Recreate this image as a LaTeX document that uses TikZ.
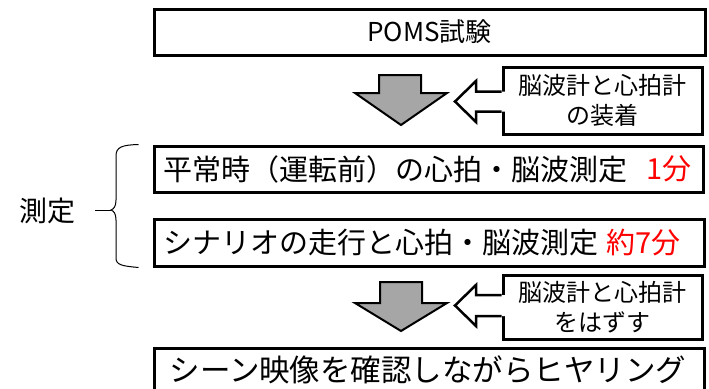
\documentclass[tikz,border=0pt]{standalone}
\usepackage{fontspec}
\setmainfont{Noto Sans CJK JP}
\definecolor{arrgray}{HTML}{A6A6A6}
\definecolor{txtred}{HTML}{FF0000}
\tikzset{
  mainbox/.style={draw=black, line width=3pt, rectangle, inner sep=0pt},
  callbox/.style={draw=black, line width=3pt, rectangle, inner sep=0pt, minimum width=199pt, align=center, font=\fontsize{24}{30}\selectfont},
  grayarrow/.style={draw=black, fill=arrgray, line width=2pt, line join=miter},
  whitearrow/.style={draw=black, line width=2.5pt, line join=miter},
  bigtext/.style={font=\fontsize{29}{34}\selectfont, inner sep=0pt},
}
\begin{document}
\begin{tikzpicture}[x=1pt,y=-1pt]
\useasboundingbox (0,0) rectangle (709,388);
% boxes
\node[mainbox, minimum width=551pt, minimum height=46pt, font=\fontsize{26}{30}\selectfont] (poms) at (429.5,32) {POMS試験};
\node[mainbox, minimum width=549pt, minimum height=46pt] (rest) at (428.5,169) {};
\node[mainbox, minimum width=550pt, minimum height=47pt] (drive) at (429,242.5) {};
\node[mainbox, minimum width=550pt, minimum height=50pt] (hear) at (429,373) {};
% texts in boxes
\node[bigtext, anchor=west] (t2) at (163,169) {平常時（運転前）の心拍・脳波測定};
\node[bigtext, anchor=west, text=txtred] (t2r) at (646,169) {1分};
\node[bigtext, anchor=west] (t3) at (163,242.5) {シナリオの走行と心拍・脳波測定};
\node[bigtext, anchor=west, text=txtred] (t3r) at (606,242.5) {約7分};
\node[font=\fontsize{30.5}{34}\selectfont, inner sep=0pt] (t4) at (428,370) {シーン映像を確認しながらヒヤリング};
% gray arrows
\draw[grayarrow] (379,75) -- (421,75) -- (421,93) -- (447,93) -- (401,125) -- (355,93) -- (379,93) -- cycle;
\draw[grayarrow] (380,282) -- (422,282) -- (422,303) -- (447,303) -- (401,331) -- (355,303) -- (380,303) -- cycle;
% callouts
\node[callbox, minimum height=67pt] (c1) at (602.5,100.5) {脳波計と心拍計\\の装着};
\node[callbox, minimum height=64pt] (c2) at (602.5,307) {脳波計と心拍計\\をはずす};
\fill[white] (507,91.5) -- (476,91.5) -- (476,81) -- (455,101.5) -- (476,122) -- (476,111.5) -- (507,111.5) -- cycle;
\draw[whitearrow] (c1.west |- 0,91.5) -- (476,91.5) -- (476,81) -- (455,101.5) -- (476,122) -- (476,111.5) -- (c1.west |- 0,111.5);
\fill[white] (507,295) -- (476,295) -- (476,285) -- (455,305.5) -- (476,326) -- (476,316) -- (507,316) -- cycle;
\draw[whitearrow] (c2.west |- 0,295) -- (476,295) -- (476,285) -- (455,305.5) -- (476,326) -- (476,316) -- (c2.west |- 0,316);
% brace and label
\node[font=\fontsize{28}{32}\selectfont, inner sep=0pt] (meas) at (47,211) {測定};
\coordinate (tip) at (111,210);
\draw[line width=1pt] (rest.north west) ++(-14,0) .. controls (122,145) and (116,147) .. (116,156)
  -- (116,200) .. controls (116,206) and (114,209) .. (tip)
  .. controls (114,211) and (116,214) .. (116,220)
  -- (116,258) .. controls (116,265) and (122,266) .. ([xshift=-14pt]drive.south west);
\draw[line width=1pt] (95,210) -- (tip);
\end{tikzpicture}
\end{document}
